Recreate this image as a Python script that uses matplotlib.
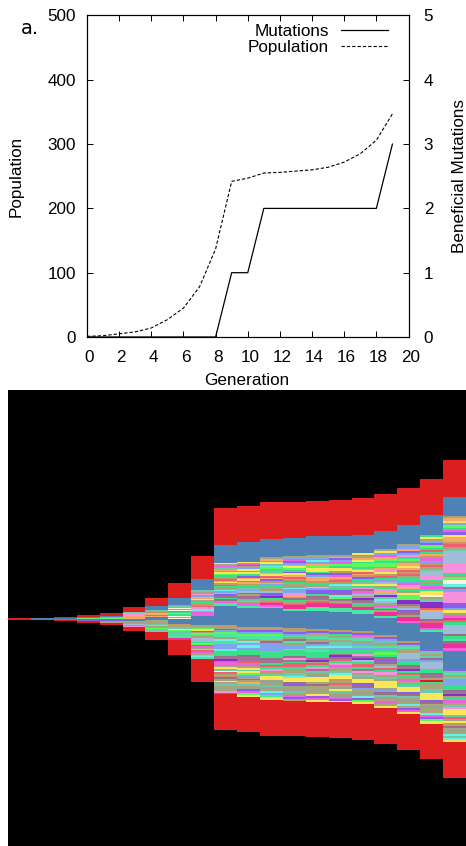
import matplotlib
matplotlib.use("Agg")
import matplotlib.pyplot as plt
from matplotlib.lines import Line2D
from matplotlib.transforms import ScaledTranslation

plt.rcParams['font.family'] = ['Liberation Sans', 'DejaVu Sans']

W, H = 466, 846
generations = list(range(20))
population = [1, 2, 5, 8, 14, 27, 45, 78, 137, 242, 247, 255, 256, 258, 260, 264, 272, 285, 306, 347]
mutations = [0, 0, 0, 0, 0, 0, 0, 0, 0, 1, 1, 2, 2, 2, 2, 2, 2, 2, 2, 3]

# Individuals per band, per generation, top to bottom
red_top =   [3, 0, 1, 2, 4, 6, 8, 16, 25, 40, 40, 40, 40, 39, 39, 40, 40, 40, 40, 40]
blue_top =  [0, 3, 3, 1, 1, 0, 5, 8, 12, 20, 21, 20, 19, 20, 21, 20, 20, 21, 21, 21]
upper_n =   [0, 0, 0, 1, 2, 8, 7, 15, 28, 47, 50, 56, 60, 61, 62, 66, 75, 86, 106, 147]
blue_mid =  [0, 0, 0, 1, 1, 2, 4, 5, 10, 21, 21, 20, 19, 20, 20, 19, 18, 20, 19, 20]
lower_n =   [0, 0, 0, 1, 3, 6, 13, 18, 37, 75, 76, 80, 79, 79, 79, 80, 80, 79, 81, 80]
red_bot =   [0, 0, 1, 2, 3, 5, 8, 16, 25, 39, 39, 39, 39, 39, 39, 39, 39, 39, 39, 39]

upper_stripes = [
    "", "", "", "g", "Tg", "TpooLo", "TkOooso", "kTwOwsGgGwlw",
    "TkploykGOspcTmm",
    "ykmlToOygGkOspyOsGkkclLvdnGdkmtt",
    "ymvklyOyGlvoysoOGkTlLvkdnGTkmmt",
    "kolyTcgGToysovOolGkkLvdVGksPmt",
    "klmvlgygGvyosOsGkkcllpoGdGksPPt",
    "klmclogyyGvlooOGkclvvGdnksPPtt",
    "kovlmgGyyOvmoGsOcTGvvdcgnksPPtt",
    "ymkoyGggGoysoOvGkTyGpnmGLkVdnGkPPtt",
    "kylmogGggkopyOsGlLykGpoLVTcLkmGdkPPt",
    "klovlpGgkoyosOskGlmpoGkyggVVnkLvdkPPm",
    "GyklvgGsGoOmlOskTLLppGkGmGyywkTVVVsoLLLdsPPmt",
    "koylgGmvyooOskTLLLLLppppGkgwwcnlpppppvvlykmPsGLLLLdGtdPPm",
]
lower_stripes = [
    "", "", "", "v", "vmk", "kkLmp", "kkOTgkgTTT", "OkkTygTTtTtPP",
    "OkgyvkgTkLLLGgnmkpsmkpct",
    "OkvlgttkcttlllcGGGdnVsmmkyTwskOdkykTkekpv",
    "OkvlgttkclcclGGGdnnsmmkyTyglkdkoTkevmgy",
    "OkvlgttkdllllTGGGdnnGsGpOkTyyeekTekcltcy",
    "OkvltkdtkllLGGGdpnGssGkkTtcyydvkkeTkmvO",
    "OvkTtkkdlcTtGGGnVksGpnTkeyyykdkkekyvmy",
    "OvGktkTTclGGnVdsGpmkkTcyyOkskeyTkemvy",
    "OvmTtkltlGGpnVLGsGnpkTkyyvdlkekcvgy",
    "OvlTktlGgGdvdkLsGpkTkyyykldTekmky",
    "OvTtkkLLLlGGdnVGsGkmkGTyyyvdTkekckvmy",
    "vTkTdlLLLGGdnkrGkkTTyyyvdkekkcmvgy",
    "vTtkTlllGGdnVkGmkTpyyyTskyOdkekcTcy",
]

palette = {
    'r': '#dc1e1e', 'b': '#4f81b5', 'g': '#5cf85c', 'G': '#38e088', 'm': '#f060e0',
    'p': '#f890dc', 'P': '#f03098', 'y': '#f8e858', 'o': '#f8a868', 'O': '#c09a60',
    'v': '#8c5cf0', 'V': '#8430c8', 'l': '#80a4f0', 'L': '#a0bcd8', 't': '#48e8a0',
    'c': '#68f0e4', 'T': '#70c8ac', 's': '#f06070', 'k': '#a8a47c', 'd': '#98708c',
    'e': '#98a490', 'w': '#f8f4e0', 'n': '#a87098',
}

fig = plt.figure(figsize=(W / 100, H / 100), dpi=100, facecolor='white')

# --- Top panel
ax = fig.add_axes([87 / W, 1 - 337 / H, (408.5 - 87) / W, (337 - 15.5) / H])
ax.plot(generations, population, color='black', lw=0.8, ls=(0, (3, 1.8)))
ax.set_xlim(0, 20)
ax.set_ylim(0, 500)
ax.set_xticks(range(0, 21, 2))
ax.set_yticks(range(0, 501, 100))
ax.tick_params(axis='x', which='both', direction='in', top=True, length=4, width=0.7,
               labelsize=12.3, pad=9)
ax.tick_params(axis='y', direction='in', length=4, width=0.7, labelsize=12.3, pad=8)
shift = ScaledTranslation(2 / 100, 0, fig.dpi_scale_trans)
for lab in ax.get_xticklabels():
    lab.set_transform(lab.get_transform() + shift)
ax2 = ax.twinx()
ax2.plot(generations, mutations, color='black', lw=0.9)
ax2.set_ylim(0, 5)
ax2.set_yticks(range(0, 6))
ax2.tick_params(axis='y', direction='in', length=4, width=0.7, labelsize=12.3, pad=11)
for a in (ax, ax2):
    for s in a.spines.values():
        s.set_linewidth(0.8)

handles = [Line2D([], [], color='black', lw=0.9),
           Line2D([], [], color='black', lw=0.8, ls=(0, (3, 1.8)))]
ax.legend(handles, ['Mutations', 'Population'], loc='upper right', frameon=False,
          markerfirst=False, fontsize=12.3, handlelength=2.75, handletextpad=0.7,
          labelspacing=0.05, borderaxespad=0,
          bbox_to_anchor=((395 - 87) / 321.5, 1 - 1.5 / 321.5)).set_zorder(5)

fig.text(21 / W, 1 - 28 / H, 'a.', family='DejaVu Sans', fontsize=14, ha='left', va='center')
fig.text(16 / W, 1 - 176 / H, 'Population', rotation=90, fontsize=12.3, ha='center', va='center')
fig.text(459 / W, 1 - 176 / H, 'Beneficial Mutations', rotation=90, fontsize=12.3, ha='center', va='center')
fig.text(247 / W, 1 - 380 / H, 'Generation', fontsize=12.3, ha='center', va='center')

# --- Bottom panel
axb = fig.add_axes([8 / W, 0, (W - 8) / W, (H - 390) / H], facecolor='black')
for i in generations:
    total = red_top[i] + blue_top[i] + upper_n[i] + blue_mid[i] + lower_n[i] + red_bot[i]
    top = total / 2
    bands = [(red_top[i], 'r'), (blue_top[i], 'b'), (upper_n[i], upper_stripes[i]),
             (blue_mid[i], 'b'), (lower_n[i], lower_stripes[i]), (red_bot[i], 'r')]
    for count, codes in bands:
        if not codes or count == 0:
            continue
        h = count / len(codes)
        for c in codes:
            top -= h
            axb.bar(i, h, bottom=top, width=1.0, color=palette[c], linewidth=0)
axb.set_xlim(-0.5, 19.5)
axb.set_ylim(-247.5, 249.7)
axb.set_xticks([])
axb.set_yticks([])
for s in axb.spines.values():
    s.set_visible(False)

fig.savefig('out.png', dpi=100, facecolor='white')
